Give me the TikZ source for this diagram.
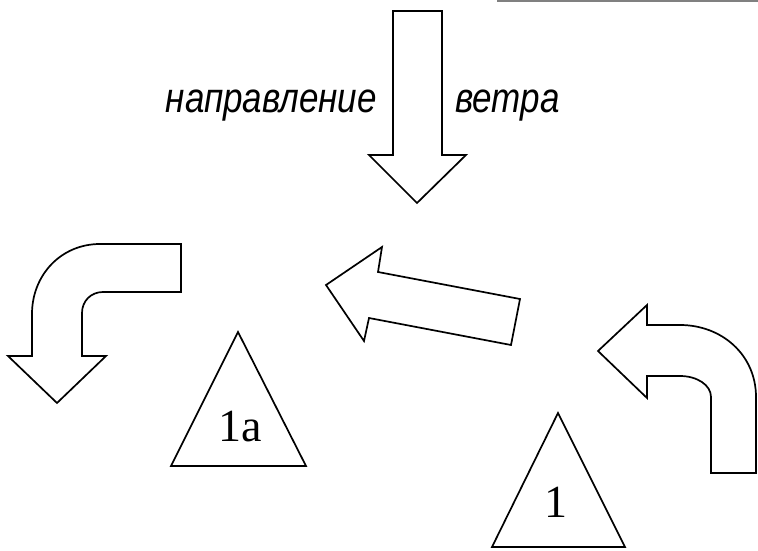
\documentclass[tikz,border=0pt]{standalone}
\usepackage{fontspec}
\newfontfamily\rufont{Liberation Sans}
\newfontfamily\numfont{Liberation Serif}
\begin{document}
\begin{tikzpicture}[x=1pt,y=-1pt,
  shapeline/.style={draw=black,line width=1.7pt,line join=miter,fill=white},
  windlabel/.style={inner sep=0pt,font=\rufont\itshape\fontsize{35}{40}\selectfont},
  trilabel/.style={inner sep=0pt,font=\numfont\fontsize{46}{52}\selectfont}]
\useasboundingbox (0,0) rectangle (758,551);
% top rule
\draw[gray,line width=1.5pt] (497,1) -- (758,1);
% wind arrow
\draw[shapeline] (393,11) -- (442,11) -- (442,155) -- (466,155) -- (417,203) -- (369,155) -- (393,155) -- cycle;
\node[windlabel,anchor=base east] (lblA) at (377,113) {\scalebox{1}[1.2]{направление}};
\node[windlabel,anchor=base west] (lblB) at (455,113) {\scalebox{1}[1.2]{ветра}};
% left curved arrow
\draw[shapeline] (181,244) -- (100,244) .. controls (61,244) and (32,275) .. (32,314) -- (32,356) -- (8,356) -- (57,403) -- (106,356) -- (82,356) -- (82,313) .. controls (82,301) and (91,292) .. (103,292) -- (181,292) -- cycle;
% middle arrow
\draw[shapeline] (326,285) -- (382,247) -- (378,272) -- (520,299) -- (511,345) -- (369,318) -- (364,341) -- cycle;
% right curved arrow
\draw[shapeline] (598,351) -- (647,305) -- (647,325) -- (680,325) .. controls (722,325) and (756,355) .. (756,397) -- (756,473) -- (711,473) -- (711,397) .. controls (711,385) and (697,376) .. (680,376) -- (647,376) -- (647,398) -- cycle;
% triangles
\draw[shapeline] (238,332) -- (306,466) -- (171,466) -- cycle;
\node[trilabel,anchor=base] (t1a) at (240,441) {1a};
\draw[shapeline] (558,413) -- (625,547) -- (492,547) -- cycle;
\node[trilabel,anchor=base] (t1) at (556,517) {1};
\end{tikzpicture}
\end{document}
